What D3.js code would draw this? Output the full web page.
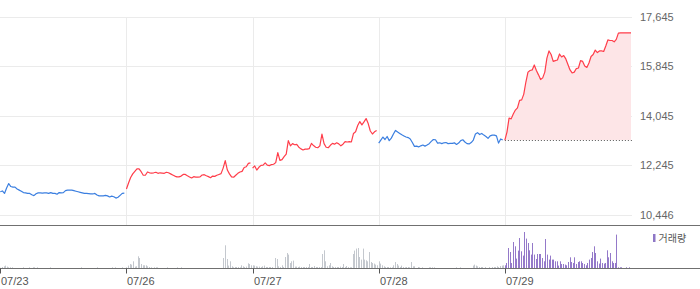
<!DOCTYPE html>
<html><head><meta charset="utf-8">
<script src="https://cdn.jsdelivr.net/npm/d3@7"></script>
<style>html,body{margin:0;padding:0;background:#fff;overflow:hidden}</style>
</head><body>
<svg id="c" width="700" height="289"></svg>
<script>
// ---------- data ----------
const dates = ["07/23", "07/26", "07/27", "07/28", "07/29"];
const yTicks = [10446, 12245, 14045, 15845, 17645];
const firstPrevClose = 11400;
const legendLabel = "거래량";

const price0723 = [11280,11310,11220,11420,11580,11470,11450,11450,11380,11340,
  11300,11250,11240,11220,11220,11170,11140,11210,11240,11240,
  11230,11240,11240,11220,11250,11220,11220,11190,11250,11240,
  11250,11320,11340,11340,11340,11320,11300,11280,11260,11240,
  11220,11220,11210,11200,11200,11220,11160,11130,11130,11130,
  11150,11130,11090,11120,11100,11050,11080,11150,11220,11230];
const price0726 = [11380,11600,11800,11930,12020,12110,12110,12010,11880,11880,
  12000,11970,11960,11970,11990,11950,11970,11960,11950,11990,
  11970,11930,11890,11850,11820,11820,11850,11910,11910,11860,
  11820,11780,11830,11810,11810,11820,11890,11900,11860,11830,
  11790,11850,11840,11880,11910,11940,12140,12410,12070,11930,
  11820,11810,11880,11950,12000,12020,12160,12190,12310,12330];
const price0727 = [12140,12220,12070,12170,12240,12250,12330,12250,12230,12270,
  12280,12340,12700,12420,12450,12560,12650,13140,12950,13030,
  12990,13000,12900,12840,12800,12830,12830,12850,13040,12960,
  12900,12880,12950,13380,13030,12900,12880,12970,13040,13010,
  13060,13020,12950,13010,13100,13090,13100,13090,13400,13460,
  13690,13830,13710,13820,13940,13760,13490,13380,13460,13510];
const price0728 = [13050,13160,13270,13180,13290,13140,13230,13380,13510,13450,
  13400,13350,13310,13270,13250,13200,13070,12930,12940,12910,
  12950,12980,12940,12980,13030,13110,13180,13170,13050,13060,
  13030,13060,13070,13030,13040,13040,13060,13000,13050,13140,
  13170,13090,13030,13020,13070,13160,13380,13430,13360,13400,
  13340,13290,13220,13310,13340,13340,13310,13050,13200,13160];
const price0729 = [13160,13450,13960,13930,14110,14250,14330,14600,14620,14830,
  15270,15630,15690,15710,15890,15690,15530,15360,15420,15630,
  16140,16400,16270,16020,16050,16070,16290,16180,16230,16110,
  15910,15710,15600,15630,15760,15780,16050,16020,15850,15800,
  15960,16200,16270,16430,16340,16400,16400,16380,16580,16800,
  16780,16780,16730,16820,17050,17060,17060,17060,17060,17060,
  17060];

const volume0723 = [5,13,20,27,17,10,10,10,0,0, 0,0,0,0,10,0,0,0,10,0,
  10,10,0,10,0,0,0,0,0,0, 0,10,0,0,0,0,0,0,0,0, 0,0,0,0,0,0,0,0,0,0,
  10,0,0,0,0,0,0,0,0,0, 10,0,0,0,0,0,0,0,0,10, 0,10,0,0,0,10,0,0];
const volume0726 = [10,27,43,37,70,17,20,120,103,43, 30,30,30,20,13,10,0,10,10,10,
  0,0,0,0,0,10,0,0,0,0, 0,10,0,0,10,0,0,0,0,0, 0,0,0,0,0,0,0,0,0,0,
  0,0,0,0,0,0,0,0,0,0, 103,230,93,27,70,20,10,13,13,13, 10,30,20,13,17,50,43,30];
const volume0727 = [30,27,20,17,17,13,20,27,13,13, 13,13,13,0,103,93,20,13,30,13,
  113,153,137,53,70,77,17,17,13,17, 13,13,13,13,13,43,13,13,23,13,
  13,13,13,143,180,70,20,30,53,20, 13,13,13,13,17,13,43,13,23,13,
  10,10,143,177,197,203,113,87,197,87, 80,70,163,63,53,47,37,30];
const volume0728 = [70,47,30,20,13,13,13,10,10,30, 63,43,27,13,27,13,10,13,13,10,
  63,20,20,0,13,10,0,10,0,0, 0,10,10,10,10,0,0,0,0,0, 0,0,0,0,0,0,0,0,10,0,
  10,0,0,0,0,0,0,0,27,37, 27,20,13,13,13,0,13,0,13,0, 13,13,13,20,13,23,27,30];
const volume0729 = [30,53,203,163,53,263,220,97,177,303, 170,127,363,297,253,180,137,253,137,93,
  143,143,143,103,70,293,137,87,127,87, 87,70,70,27,70,43,43,37,30,63,
  110,63,53,110,43,63,70,70,53,43, 30,53,87,103,163,220,153,70,47,97,
  53,47,53,180,110,153,70,53,53,337, 10,10,10,0,0,10,0,10];

const prices = [price0723, price0726, price0727, price0728, price0729];
const volumes = [volume0723, volume0726, volume0727, volume0728, volume0729];

// ---------- drawing ----------
const svg = d3.select("#c");
const FONT = "'Liberation Sans', Arial, sans-serif";
const RED = "#ff3d4a", BLUE = "#3b7fe0";

const x = d3.scaleLinear().domain([0, dates.length]).range([0.3, 631]);
const y = d3.scaleLinear().domain([10446, 17645]).range([214.7, 16.7]);
const yv = d3.scaleLinear().domain([0, 370]).range([268.3, 231.3]);
const PLOT_R = 632;

// horizontal grid
svg.append("g").selectAll("line").data(yTicks).join("line")
  .attr("x1", 0).attr("x2", PLOT_R)
  .attr("y1", d => Math.round(y(d)) + 0.5).attr("y2", d => Math.round(y(d)) + 0.5)
  .attr("stroke", "#ebebeb").attr("stroke-width", 1);

// vertical grid
svg.append("g").selectAll("line").data(d3.range(1, dates.length)).join("line")
  .attr("x1", d => Math.round(x(d)) + 0.5).attr("x2", d => Math.round(x(d)) + 0.5)
  .attr("y1", Math.round(y(17645))).attr("y2", 225)
  .attr("stroke", "#ebebeb").attr("stroke-width", 1);

// right axis labels
const fmt = d3.format(",");
svg.append("g").selectAll("text").data(yTicks).join("text")
  .attr("x", 640).attr("y", d => y(d)).attr("dy", "0.36em")
  .attr("font-family", FONT).attr("font-size", 11).attr("fill", "#666")
  .text(d => fmt(d));

// previous-close per day and colors
const prevClose = prices.map((p, i) => i === 0 ? firstPrevClose : prices[i - 1][prices[i - 1].length - 1]);
const lastDay = prices.length - 1;

// area fill for last day
const lastArea = d3.area()
  .x((v, i) => x(lastDay + i / 60))
  .y0(y(prevClose[lastDay]))
  .y1(v => y(v));
svg.append("path").datum(prices[lastDay]).attr("d", lastArea)
  .attr("fill", "#fde5e7").attr("stroke", "none");

// dotted previous close line
svg.append("line")
  .attr("x1", x(lastDay)).attr("x2", PLOT_R)
  .attr("y1", Math.round(y(prevClose[lastDay])) + 0.5).attr("y2", Math.round(y(prevClose[lastDay])) + 0.5)
  .attr("stroke", "#555").attr("stroke-width", 1).attr("stroke-dasharray", "1,2");

// price lines per day
prices.forEach((p, d) => {
  const line = d3.line().x((v, i) => x(d + i / 60)).y(v => y(v));
  const up = p[p.length - 1] >= prevClose[d];
  svg.append("path").datum(p).attr("d", line)
    .attr("fill", "none").attr("stroke", up ? RED : BLUE)
    .attr("stroke-width", 1.2).attr("stroke-linejoin", "round");
});

// separator line
svg.append("line").attr("x1", 0).attr("x2", 700).attr("y1", 225.5).attr("y2", 225.5)
  .attr("stroke", "#707070").attr("stroke-width", 1);

// volume bars
volumes.forEach((vols, d) => {
  svg.append("g").selectAll("rect").data(vols).join("rect")
    .attr("x", (v, j) => Math.round(x(d + j / 78)))
    .attr("width", 1)
    .attr("y", v => yv(v))
    .attr("height", v => yv(0) - yv(v))
    .attr("fill", d === lastDay ? "#9479c9" : "#c4c8ce");
});

// volume baseline
svg.append("line").attr("x1", 0).attr("x2", 700).attr("y1", 268.5).attr("y2", 268.5)
  .attr("stroke", "#707070").attr("stroke-width", 1);

// x ticks and labels
svg.append("g").selectAll("line").data(d3.range(dates.length)).join("line")
  .attr("x1", d => Math.round(x(d)) + 0.5).attr("x2", d => Math.round(x(d)) + 0.5)
  .attr("y1", 268.5).attr("y2", 273.5)
  .attr("stroke", "#555").attr("stroke-width", 1);
svg.append("g").selectAll("text").data(dates).join("text")
  .attr("x", (d, i) => Math.round(x(i)) + 1).attr("y", 285)
  .attr("font-family", FONT).attr("font-size", 11).attr("fill", "#555")
  .text(d => d);

// legend
svg.append("rect").attr("x", 653).attr("y", 234).attr("width", 2.5).attr("height", 8)
  .attr("fill", "#8e77c6");
svg.append("text").attr("x", 658.5).attr("y", 242)
  .attr("font-family", "'Noto Sans CJK KR', sans-serif").attr("font-size", 10).attr("fill", "#555")
  .text(legendLabel);
</script>
</body></html>
